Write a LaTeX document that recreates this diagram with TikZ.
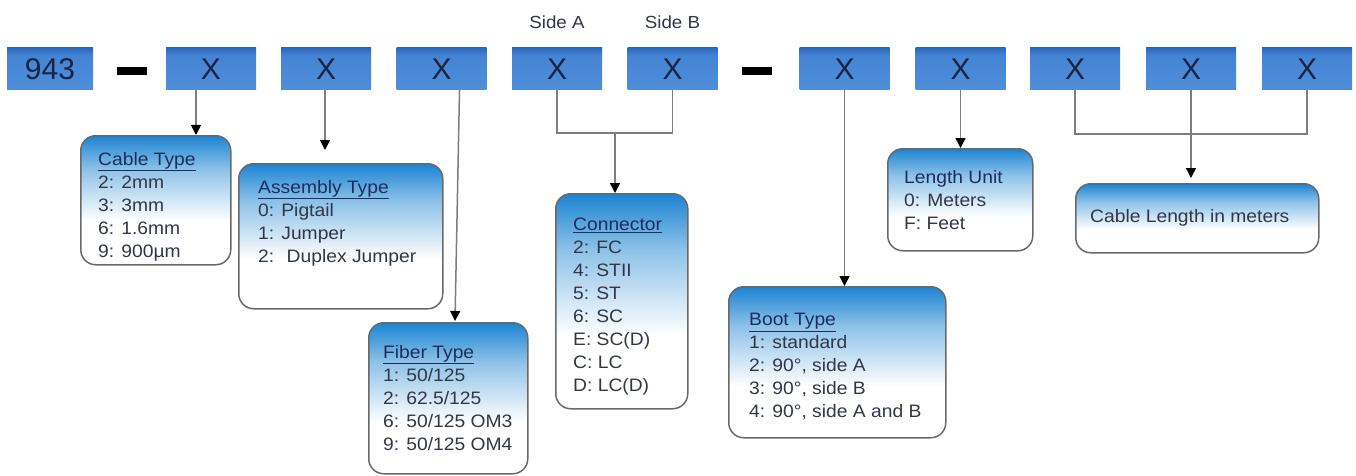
\documentclass[tikz,border=0pt]{standalone}
\usepackage{fontspec}
\setmainfont{Liberation Sans}
\newfontfamily\callfont[FakeStretch=1.07]{Liberation Sans}
\usetikzlibrary{arrows.meta,calc}
\definecolor{cblue}{RGB}{28,132,210}
\colorlet{cblight}{cblue!50!white}
\definecolor{tbtop}{RGB}{44,104,190}
\definecolor{tbmid}{RGB}{68,132,212}
\definecolor{tbbot}{RGB}{78,142,218}
\definecolor{ink}{RGB}{28,36,66}
\definecolor{titlec}{RGB}{30,45,95}
\definecolor{itemc}{RGB}{50,55,70}
\definecolor{edgec}{RGB}{105,105,105}
\definecolor{wirec}{RGB}{125,125,125}
\pgfdeclareverticalshading{callshade}{100bp}{color(0bp)=(white); color(25bp)=(white); color(42bp)=(white); color(62bp)=(cblight); color(75bp)=(cblue); color(100bp)=(cblue)}
\pgfdeclareverticalshading{topshade}{100bp}{color(0bp)=(tbbot); color(25bp)=(tbbot); color(66bp)=(tbmid); color(75bp)=(tbtop); color(100bp)=(tbtop)}
\tikzset{
  topbox/.style={shading=topshade, minimum width=90pt, minimum height=42pt, inner sep=0pt,
    text=ink, font=\fontsize{30}{30}\selectfont},
  dashbar/.style={fill=black, minimum width=30pt, minimum height=8pt, inner sep=0pt},
  callout/.style={draw=edgec, line width=1.5pt, rounded corners=15pt, shading=callshade,
    anchor=north west, inner sep=0pt},
  ctext/.style={anchor=north west, align=left, inner sep=0pt, text=itemc,
    font=\callfont\fontsize{18}{23}\selectfont},
  sidelbl/.style={text=itemc, font=\callfont\fontsize{17.5}{18}\selectfont, inner sep=0pt},
  wire/.style={draw=wirec, line width=1.5pt},
  arr/.style={wire, -{Triangle[length=10pt,width=10pt,color=black]}},
}
\newcommand{\ttl}[1]{\textcolor{titlec}{\underline{#1}}}
\begin{document}
\begin{tikzpicture}[x=1pt,y=-1pt]
\useasboundingbox (0,0) rectangle (1356,476);
% top row
\node[topbox, minimum width=86pt] (b0) at (50,69) {943};
\node[dashbar] (d1) at (132,71) {};
\node[topbox] (b1) at (211,69) {X};
\node[topbox] (b2) at (326,69) {X};
\node[topbox] (b3) at (441.5,69) {X};
\node[topbox] (b4) at (557,69) {X};
\node[topbox] (b5) at (672.5,69) {X};
\node[dashbar] (d2) at (756.5,71) {};
\node[topbox] (b6) at (844.5,69) {X};
\node[topbox] (b7) at (960.5,69) {X};
\node[topbox] (b8) at (1075,69) {X};
\node[topbox] (b9) at (1191,69) {X};
\node[topbox] (b10) at (1307,69) {X};
\node[sidelbl] (sa) at (557,22) {Side A};
\node[sidelbl] (sb) at (672.5,22) {Side B};
% callout boxes
\node[callout, minimum width=150pt, minimum height=129pt] (cable) at (80,135) {};
\node[callout, minimum width=204pt, minimum height=145pt] (assembly) at (238,163) {};
\node[callout, minimum width=159pt, minimum height=151pt] (fiber) at (368,322) {};
\node[callout, minimum width=132pt, minimum height=215pt] (conn) at (555,193) {};
\node[callout, minimum width=217pt, minimum height=151pt] (boot) at (728,286) {};
\node[callout, minimum width=145pt, minimum height=102pt] (unit) at (887,148) {};
\node[callout, minimum width=243pt, minimum height=69pt] (clen) at (1075,183) {};
% texts
\node[ctext] (cabletxt) at ($(cable.north west)+(18,17)$)
  {\ttl{Cable Type}\\2: 2mm\\3: 3mm\\6: 1.6mm\\9: 900µm};
\node[ctext] (asmtxt) at ($(assembly.north west)+(20,17)$)
  {\ttl{Assembly Type}\\0: Pigtail\\1: Jumper\\2:~ Duplex Jumper};
\node[ctext] (fibtxt) at ($(fiber.north west)+(15,23)$)
  {\ttl{Fiber Type}\\1: 50/125\\2: 62.5/125\\6: 50/125 OM3\\9: 50/125 OM4};
\node[ctext] (conntxt) at ($(conn.north west)+(18,25)$)
  {\ttl{Connector}\\2: FC\\4: STII\\5: ST\\6: SC\\E: SC(D)\\C: LC\\D: LC(D)};
\node[ctext] (boottxt) at ($(boot.north west)+(21,27)$)
  {\ttl{Boot Type}\\1: standard\\2: 90°, side A\\3: 90°, side B\\4: 90°, side A and B};
\node[ctext] (unittxt) at ($(unit.north west)+(17,22)$)
  {\textcolor{titlec}{Length Unit}\\0: Meters\\F: Feet};
\node[ctext, anchor=west] (clentxt) at ($(clen.west)+(15,0)$) {Cable Length in meters};
% connectors
\coordinate (c1s) at ($(b1.south)+(-15,0)$);
\draw[arr] (c1s) -- (c1s |- cable.north);
\coordinate (c2s) at ($(b2.south)+(-1,0)$);
\coordinate (c2e) at (325,150);
\draw[arr] (c2s) -- (c2e);
\coordinate (c3s) at ($(b3.south)+(18,0)$);
\coordinate (c3e) at (455,321);
\draw[arr] (c3s) -- (c3e);
\coordinate (jab) at (615,133);
\draw[wire] (b4.south) |- (jab) -| (b5.south);
\draw[arr] (jab) -- (jab |- conn.north);
\draw[arr] (b6.south) -- (b6.south |- boot.north);
\draw[arr] (b7.south) -- (b7.south |- unit.north);
\coordinate (jlen) at (1191,134);
\draw[wire] (b8.south) |- (jlen) -| (b10.south);
\coordinate (clentip) at (1191,178);
\draw[arr] (b9.south) -- (clentip);
\end{tikzpicture}
\end{document}
